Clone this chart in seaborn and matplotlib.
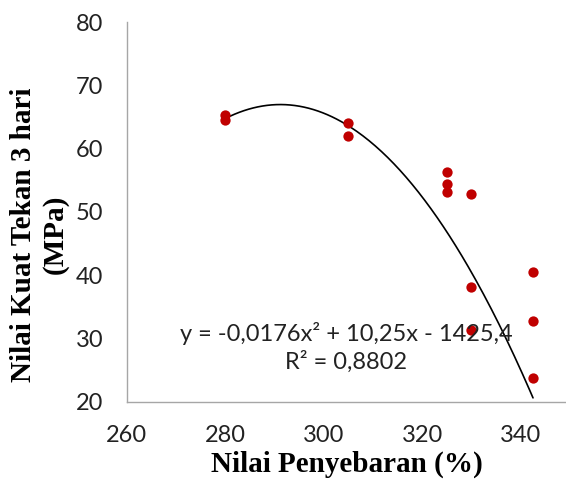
import matplotlib
matplotlib.use("Agg")
import matplotlib.pyplot as plt
import seaborn as sns
import pandas as pd
import numpy as np

spread = [280, 280, 305, 305, 325, 325, 325, 330, 330, 330, 342.5, 342.5, 342.5]
strength = [65.3, 64.6, 64.0, 62.0, 56.3, 54.4, 53.2, 52.8, 38.2, 31.4, 40.5, 32.8, 23.8]
# trendline coefficients printed on the chart (a, b, c)
trend_coef = [-0.0176, 10.25, -1425.4]
x_ticks = [260, 280, 300, 320, 340]
y_ticks = [20, 30, 40, 50, 60, 70, 80]
eq_text = "y = -0,0176x² + 10,25x - 1425,4\nR² = 0,8802"

df = pd.DataFrame({"spread": spread, "strength": strength})
xs = np.linspace(min(spread), max(spread), 200)
trend = pd.DataFrame({"spread": xs, "strength": np.polyval(trend_coef, xs)})

sns.set_theme(style="white")
plt.rcParams['font.family'] = ['Lato', 'DejaVu Sans']

fig = plt.figure(figsize=(5.66, 4.79), dpi=100)
ax = fig.add_axes([0.224, 0.161, 0.776, 0.793])

sns.lineplot(data=trend, x="spread", y="strength", color="black", lw=1.2, ax=ax)
sns.scatterplot(data=df, x="spread", y="strength", color="#c00000", s=55,
                edgecolor="#c00000", linewidth=0, ax=ax, zorder=3)

ax.set_xlim(260, 349.2)
ax.set_ylim(20, 80)
ax.set_xticks(x_ticks)
ax.set_yticks(y_ticks)
ax.tick_params(axis='both', length=0, labelsize=17, colors='#222222', pad=17)
for s in ['top', 'right']:
    ax.spines[s].set_visible(False)
for s in ['left', 'bottom']:
    ax.spines[s].set_color('#a6a6a6')
    ax.spines[s].set_linewidth(1.0)

ax.set_xlabel("Nilai Penyebaran (%)", family=['Liberation Serif'], fontweight='bold',
              fontsize=21, color='black', labelpad=3)
ax.set_ylabel("Nilai Kuat Tekan 3 hari\n(MPa)", family=['Liberation Serif'], fontweight='bold',
              fontsize=21, color='black', linespacing=1.2)
ax.yaxis.set_label_coords(-0.132, 0.44)

ax.text(304.5, 28.6, eq_text, ha='center', va='center', fontsize=17, color='#222222',
        linespacing=1.28)

fig.savefig("out.png", dpi=100)
